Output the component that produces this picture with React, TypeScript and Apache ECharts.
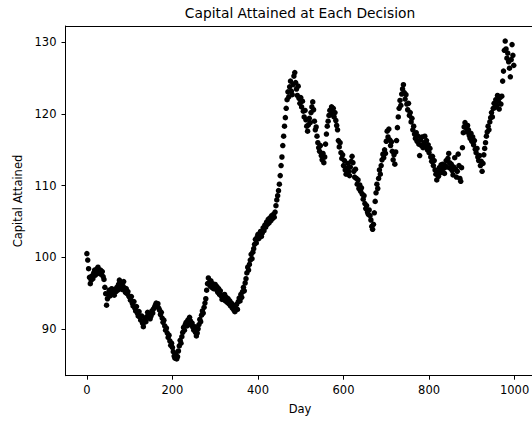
import React, { useEffect, useRef } from "react";
import * as echarts from "echarts";

const titleText = "Capital Attained at Each Decision";
const xTitle = "Day";
const yTitle = "Capital Attained";
const xTicks = [0, 200, 400, 600, 800, 1000];
const yTicks = [90, 100, 110, 120, 130];
const dayStep = 2;

// capital attained, read every 2 days (day 0 .. 998)
const capital = [
  100.5, 99.6, 98.4, 97.2, 96.3, 96.8, 97.4, 97.0, 97.8, 98.2, 97.5, 98.0, 98.4, 98.6, 98.0, 97.7, 98.2, 97.6, 98.0, 97.3, 96.9, 95.8, 94.9, 93.3, 94.2,
  94.8, 95.4, 94.6, 95.1, 95.6, 95.0, 95.3, 94.7, 95.5, 95.2, 95.8, 95.4, 96.2, 96.8, 95.9, 96.3, 95.5, 96.0, 96.6, 95.7, 95.1, 95.6, 94.9, 95.2, 94.6,
  94.4, 94.0, 94.5, 93.6, 93.2, 93.8, 92.9, 92.5, 93.1, 92.2, 91.8, 92.4, 91.6, 91.2, 91.8, 90.8, 90.3, 90.9, 91.5, 91.0, 91.7, 92.3, 91.6, 92.0, 91.4,
  91.8, 92.5, 92.2, 92.8, 93.0, 93.3, 93.6, 93.2, 93.5, 92.9, 92.6, 92.0, 92.3, 91.5, 90.9, 91.2, 90.4, 89.8, 90.1, 89.4, 88.8, 89.1, 88.3, 87.7, 88.0,
  87.4, 86.8, 86.2, 85.9, 86.4, 85.8, 86.1, 86.9, 87.6, 88.4, 88.0, 88.9, 89.5, 90.2, 89.8, 90.6, 90.9, 90.4, 91.2, 90.8, 91.6, 91.1, 90.5, 90.8, 90.2,
  89.8, 90.3, 89.5, 89.0, 89.4, 90.0, 90.6, 91.3, 91.0, 91.9, 92.5, 92.2, 93.0, 93.6, 94.2, 95.4, 96.3, 97.1, 96.5, 96.0, 96.7, 95.8, 96.3, 95.6, 96.1,
  96.2, 95.5, 95.9, 95.1, 95.6, 94.8, 95.3, 94.6, 94.1, 94.7, 94.2, 94.8, 93.9, 94.4, 93.7, 94.2, 93.5, 93.9, 93.2, 93.6, 92.9, 93.3, 92.6, 92.4, 92.9,
  93.4, 92.7, 93.8, 94.3, 93.9, 94.8, 94.4, 95.2, 95.8, 95.3, 96.4, 97.0, 97.8, 98.6, 98.2, 99.0, 99.6, 100.4, 99.8, 100.7, 101.2, 101.8, 102.5, 102.0, 102.8,
  103.2, 102.6, 103.0, 103.6, 102.9, 103.4, 104.1, 103.7, 104.5, 104.2, 104.9, 104.6, 105.3, 104.8, 105.5, 105.1, 105.8, 105.4, 106.0, 105.6, 106.3, 107.2, 108.0, 108.6, 109.3,
  110.2, 111.4, 112.8, 114.0, 115.6, 116.9, 118.3, 119.5, 120.8, 122.0, 123.1, 122.4, 123.8, 124.6, 123.2, 122.7, 124.1, 125.3, 125.8, 124.4, 123.5, 122.6, 123.9, 122.2, 121.5,
  122.3, 121.0, 121.8, 120.4, 119.6, 120.5, 119.2, 118.3, 117.6, 118.5, 119.4, 118.8, 120.2, 121.0, 121.7, 120.6, 119.0, 117.8, 118.2, 116.9, 116.0, 115.3, 114.8, 115.6, 114.2,
  113.6, 114.5, 113.2, 114.0, 115.8, 117.2, 118.3, 119.0, 119.8, 120.5, 119.9, 121.0, 120.3, 120.8, 119.6, 120.2, 119.1, 118.4, 117.8, 116.3, 115.4, 116.0, 114.6, 113.8, 114.3,
  112.8, 113.5, 112.2, 111.6, 112.4, 113.1, 112.0, 111.4, 112.6, 113.4, 114.1, 113.2, 112.0, 111.2, 112.3, 111.0, 110.2, 110.8, 109.6, 110.1, 109.2, 109.7, 108.8, 108.1, 108.6,
  107.5, 106.8, 107.2, 106.3, 106.0, 106.6, 105.8, 105.2, 104.3, 103.9, 104.6, 106.2, 107.8, 109.0, 110.2, 109.6, 111.0, 112.2, 111.6, 112.8, 113.6, 114.4, 113.9, 115.0, 114.5,
  116.2, 117.6, 116.8, 117.9, 116.4, 115.6, 116.1, 114.8, 113.6, 114.3, 113.0, 114.7, 116.3, 118.1, 119.6, 120.8, 121.9, 121.2, 122.8, 123.5, 124.1, 123.0, 122.1, 122.7, 121.4,
  120.6, 121.5, 119.8, 120.2, 118.9, 119.4, 117.8, 118.3, 117.2, 116.6, 117.4, 116.2, 116.9, 115.8, 114.2, 116.4, 115.6, 116.8, 115.3, 116.0, 116.9, 115.5, 116.3, 115.0, 115.7,
  114.6, 115.2, 114.0, 113.4, 114.1, 112.8, 113.5, 112.2, 111.6, 110.8, 111.9, 111.3, 112.5, 111.8, 112.9, 112.2, 113.0, 112.4, 111.7, 112.8, 113.5, 112.6, 113.8, 114.5, 113.2,
  112.4, 113.0, 112.1, 111.5, 112.6, 113.9, 112.3, 111.2, 112.0, 114.4, 112.8, 111.0, 110.6, 112.5, 115.3, 117.4, 118.2, 118.8, 118.1, 117.5, 118.4, 117.8, 117.0, 116.6, 117.3,
  116.2, 116.8, 115.7, 116.3, 115.1, 114.6, 115.2, 114.0, 113.5, 114.2, 112.8, 113.4, 112.0, 113.1, 114.3, 115.2, 116.0, 116.9, 117.5, 118.3, 117.8, 118.9, 119.5, 120.2, 119.6,
  120.8, 121.5, 120.9, 122.0, 121.2, 122.6, 121.8, 120.7, 122.3, 121.4, 122.5, 124.6, 126.0, 128.9, 130.2, 129.1, 127.8, 128.5, 127.3, 126.4, 125.2, 127.6, 129.7, 128.2, 126.8,
];

export default function App() {
  const ref = useRef<HTMLDivElement>(null);
  useEffect(() => {
    document.body.style.margin = "0";
    if (!ref.current) return;
    const chart = echarts.init(ref.current, null, { renderer: "svg" });
    const font = "DejaVu Sans, sans-serif";
    const gLeft = 65.5;
    const gTop = 26;
    const gHeight = 349.7;
    const gWidth = 470.5;
    const axisCenterX = 300;
    chart.setOption({
      animation: false,
      backgroundColor: "#fff",
      grid: {
        left: gLeft,
        top: gTop,
        width: gWidth,
        height: gHeight,
        outerBoundsMode: "none",
        containLabel: false,
        show: false,
      },
      xAxis: [
        {
          type: "value",
          min: -50,
          max: 1050,
          position: "bottom",
          splitLine: { show: false },
          axisLine: { show: true, onZero: false, lineStyle: { color: "#000", width: 1 } },
          axisTick: { show: true, length: 4, customValues: xTicks, lineStyle: { color: "#000" } },
          axisLabel: {
            customValues: xTicks,
            formatter: (v: number) => String(v),
            margin: 8,
            color: "#000",
            fontFamily: font,
            fontSize: 11.5,
          },
        },
        {
          type: "value",
          min: -50,
          max: 1050,
          position: "top",
          splitLine: { show: false },
          axisLine: { show: true, onZero: false, lineStyle: { color: "#000", width: 1 } },
          axisTick: { show: false },
          axisLabel: { show: false },
        },
      ],
      yAxis: {
        type: "value",
        min: 83.45,
        max: 132.3,
        splitLine: { show: false },
        axisLine: { show: true, onZero: false, lineStyle: { color: "#000", width: 1 } },
        axisTick: { show: true, length: 4, customValues: yTicks, lineStyle: { color: "#000" } },
        axisLabel: {
          customValues: yTicks,
          formatter: (v: number) => String(v),
          margin: 9,
          color: "#000",
          fontFamily: font,
          fontSize: 11.5,
        },
      },
      graphic: [
        {
          type: "text",
          x: axisCenterX,
          y: 12.5,
          style: { text: titleText, font: `13.8px ${font}`, fill: "#000", textAlign: "center", textVerticalAlign: "middle" },
        },
        {
          type: "text",
          x: axisCenterX,
          y: 409,
          style: { text: xTitle, font: `11.5px ${font}`, fill: "#000", textAlign: "center", textVerticalAlign: "middle" },
        },
        {
          type: "text",
          x: 17.5,
          y: 201,
          rotation: Math.PI / 2,
          style: { text: yTitle, font: `11.5px ${font}`, fill: "#000", textAlign: "center", textVerticalAlign: "middle" },
        },
      ],
      series: [
        {
          type: "scatter",
          xAxisIndex: 0,
          symbol: "circle",
          symbolSize: 5.5,
          itemStyle: { color: "#000", opacity: 1 },
          data: capital.map((v, i) => [i * dayStep, v]),
        },
      ],
    });
    return () => chart.dispose();
  }, []);
  return <div ref={ref} style={{ width: 532, height: 421 }} />;
}
